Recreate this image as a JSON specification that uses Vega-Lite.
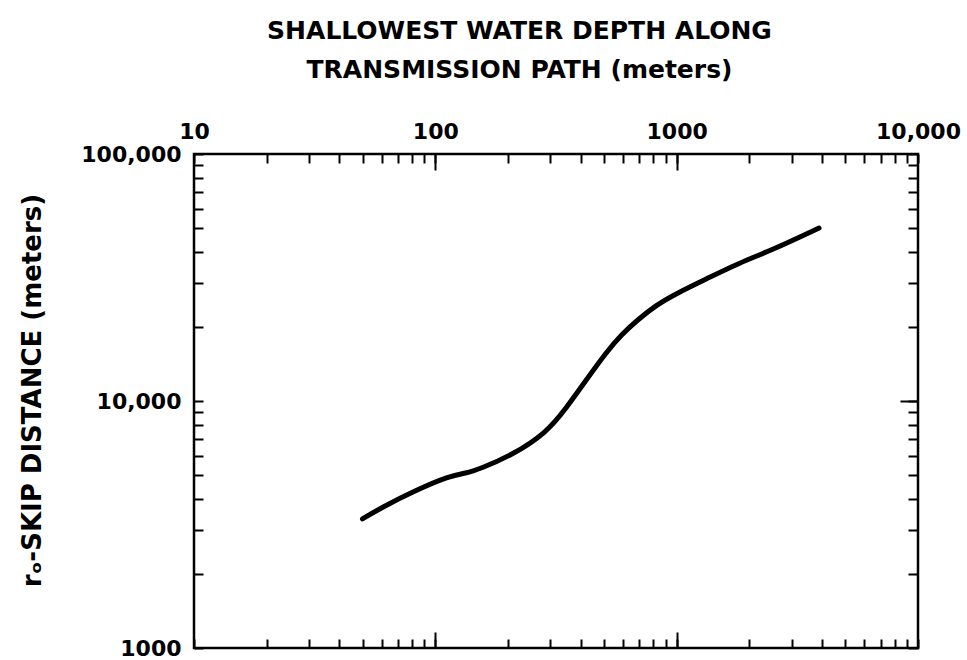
{
  "$schema": "https://vega.github.io/schema/vega-lite/v6.json",
  "autosize": "none",
  "width": 724,
  "height": 494,
  "padding": {"left": 194, "top": 154, "right": 49, "bottom": 12},
  "background": "white",
  "config": {
    "view": {"stroke": "black", "strokeWidth": 2.5},
    "font": "DejaVu Sans"
  },
  "data": {
    "values": [
      {"depth": 49.9, "skip": 3330},
      {"depth": 60.3, "skip": 3720},
      {"depth": 83.4, "skip": 4360},
      {"depth": 114, "skip": 4970},
      {"depth": 134, "skip": 5100},
      {"depth": 152, "skip": 5300},
      {"depth": 208, "skip": 6040},
      {"depth": 288, "skip": 7420},
      {"depth": 349, "skip": 9370},
      {"depth": 422, "skip": 12160},
      {"depth": 511, "skip": 15790},
      {"depth": 595, "skip": 18670},
      {"depth": 680, "skip": 21080},
      {"depth": 823, "skip": 24480},
      {"depth": 1005, "skip": 27360},
      {"depth": 1325, "skip": 31190},
      {"depth": 1815, "skip": 36210},
      {"depth": 2486, "skip": 40870},
      {"depth": 3890, "skip": 50170}
    ]
  },
  "resolve": {"axis": {"x": "independent", "y": "independent"}},
  "layer": [
    {
      "mark": {"type": "line", "color": "black", "strokeWidth": 5, "interpolate": "basis", "strokeCap": "round"},
      "encoding": {
        "x": {
          "field": "depth", "type": "quantitative",
          "scale": {"type": "log", "domain": [10, 10000], "nice": false},
          "axis": {
            "orient": "top",
            "values": [10,20,30,40,50,60,70,80,90,100,200,300,400,500,600,700,800,900,1000,2000,3000,4000,5000,6000,7000,8000,9000,10000],
            "labelExpr": "datum.value == 10 ? '10' : datum.value == 100 ? '100' : datum.value == 1000 ? '1000' : datum.value == 10000 ? '10,000' : ''",
            "labelFont": "DejaVu Sans", "labelFontSize": 22, "labelFontWeight": "bold", "labelColor": "black",
            "labelPadding": 20, "labelFlush": false, "labelOverlap": false, "labelBound": false,
            "grid": false, "domain": false,
            "ticks": true, "tickSize": -9, "tickColor": "black", "tickWidth": 2,
            "title": ["SHALLOWEST WATER DEPTH ALONG", "TRANSMISSION PATH (meters)"],
            "titleFont": "DejaVu Sans", "titleFontSize": 25, "titleFontWeight": "bold", "titleColor": "black",
            "titleX": 325, "titleY": -116, "titleAlign": "center", "titleBaseline": "alphabetic", "titleLineHeight": 39, "titleAngle": 0
          }
        },
        "y": {
          "field": "skip", "type": "quantitative",
          "scale": {"type": "log", "domain": [1000, 100000], "nice": false},
          "axis": {
            "orient": "left",
            "values": [1000,2000,3000,4000,5000,6000,7000,8000,9000,10000,20000,30000,40000,50000,60000,70000,80000,90000,100000],
            "labelExpr": "datum.value == 100000 ? '100,000' : datum.value == 10000 ? '10,000' : datum.value == 1000 ? '1000' : ''",
            "labelFont": "DejaVu Sans", "labelFontSize": 22, "labelFontWeight": "bold", "labelColor": "black",
            "labelPadding": 22, "labelFlush": false, "labelOverlap": false, "labelBound": false,
            "grid": false, "domain": false,
            "ticks": true, "tickSize": -9, "tickColor": "black", "tickWidth": 2,
            "title": "rₒ-SKIP DISTANCE  (meters)",
            "titleFont": "DejaVu Sans", "titleFontSize": 26, "titleFontWeight": "bold", "titleColor": "black",
            "titleX": -162, "titleY": 236, "titleAlign": "center", "titleBaseline": "middle", "titleAngle": -90
          }
        }
      }
    },
    {
      "mark": {"type": "line", "strokeOpacity": 0},
      "encoding": {
        "x": {
          "field": "depth", "type": "quantitative",
          "axis": {
            "orient": "bottom",
            "values": [10,20,30,40,50,60,70,80,90,100,200,300,400,500,600,700,800,900,1000,2000,3000,4000,5000,6000,7000,8000,9000,10000],
            "labels": false, "grid": false, "domain": false, "title": null,
            "ticks": true, "tickSize": -9, "tickColor": "black", "tickWidth": 2
          }
        },
        "y": {
          "field": "skip", "type": "quantitative",
          "axis": {
            "orient": "right",
            "values": [1000,2000,3000,4000,5000,6000,7000,8000,9000,10000,20000,30000,40000,50000,60000,70000,80000,90000,100000],
            "labels": false, "grid": false, "domain": false, "title": null,
            "ticks": true, "tickSize": -10, "tickColor": "black", "tickWidth": 2
          }
        }
      }
    },
    {
      "mark": {"type": "line", "strokeOpacity": 0},
      "encoding": {
        "x": {
          "field": "depth", "type": "quantitative",
          "axis": {
            "orient": "top", "values": [100, 1000],
            "labels": false, "grid": false, "domain": false, "title": null,
            "ticks": true, "tickSize": -16, "tickColor": "black", "tickWidth": 2
          }
        },
        "y": {
          "field": "skip", "type": "quantitative",
          "axis": {
            "orient": "right", "values": [10000],
            "labels": false, "grid": false, "domain": false, "title": null,
            "ticks": true, "tickSize": -18, "tickColor": "black", "tickWidth": 2
          }
        }
      }
    },
    {
      "mark": {"type": "line", "strokeOpacity": 0},
      "encoding": {
        "x": {
          "field": "depth", "type": "quantitative",
          "axis": {
            "orient": "bottom", "values": [100, 1000],
            "labels": false, "grid": false, "domain": false, "title": null,
            "ticks": true, "tickSize": -16, "tickColor": "black", "tickWidth": 2
          }
        },
        "y": {
          "field": "skip", "type": "quantitative",
          "axis": null
        }
      }
    }
  ]
}
